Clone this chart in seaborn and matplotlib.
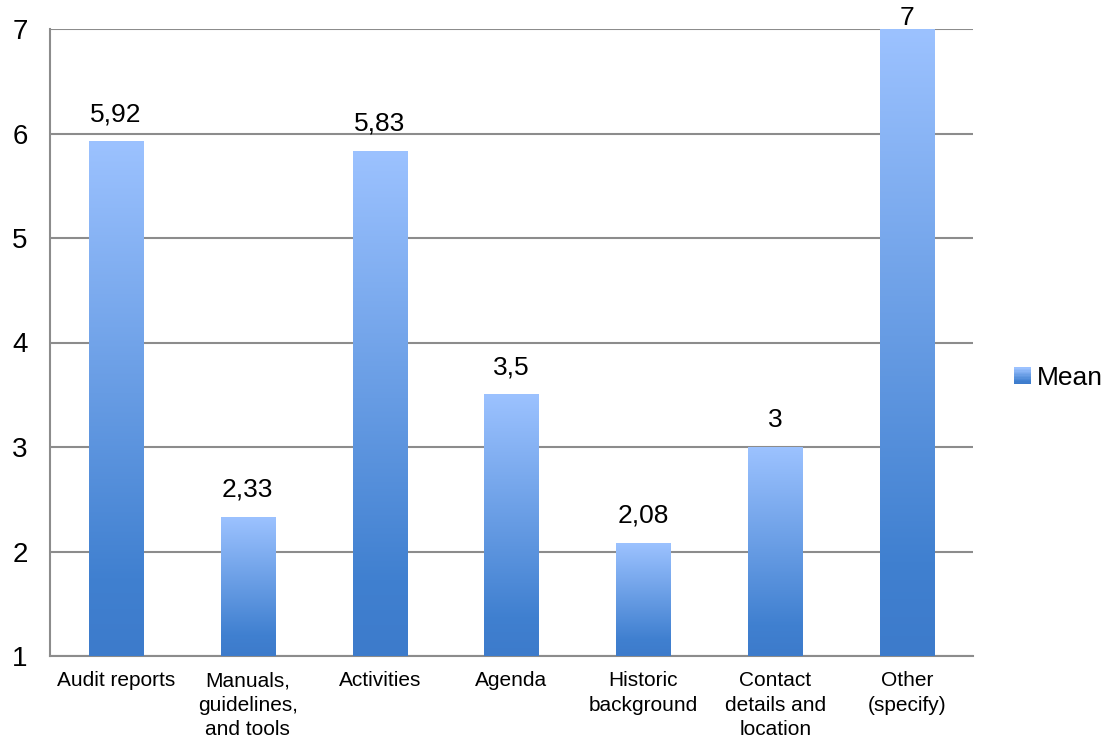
#Bar chart of mean scores per category with blue gradient bars
import numpy as np
import pandas as pd
import matplotlib
matplotlib.use('Agg')
import matplotlib.pyplot as plt
import seaborn as sns
from matplotlib.colors import LinearSegmentedColormap
from matplotlib.patches import Rectangle
from matplotlib.legend_handler import HandlerBase

#data
categories = ['Audit reports', 'Manuals,\nguidelines,\nand tools', 'Activities', 'Agenda',
              'Historic\nbackground', 'Contact\ndetails and\nlocation', 'Other\n(specify)']
means = [5.92, 2.33, 5.83, 3.5, 2.08, 3, 7]
y_ticks = [1, 2, 3, 4, 5, 6, 7]

df = pd.DataFrame({'category': categories, 'mean': means})

sns.set_style('white')
plt.rcParams['font.family'] = ['Liberation Sans', 'DejaVu Sans']
plt.rcParams['text.color'] = 'black'
plt.rcParams['xtick.labelcolor'] = 'black'
plt.rcParams['ytick.labelcolor'] = 'black'

#gradient from dark blue (bottom) to light blue (top)
cmap = LinearSegmentedColormap.from_list('bluegrad', [(0, '#3d7bcb'), (0.15, '#4080d0'), (1, '#9cc2ff')])

fig = plt.figure(figsize=(11.07, 7.42), dpi=100)
ax = fig.add_axes([50 / 1107, 1 - 656 / 742, (973 - 50) / 1107, (656 - 29) / 742])

sns.barplot(data=df, x='category', y='mean', color='#6f9fe6', width=0.41, ax=ax, zorder=2)
ax.set_ylim(1, 7)
ax.set_xlim(-0.5, len(categories) - 0.5)

#replace each bar fill with a vertical gradient
grad = np.linspace(0, 1, 256).reshape(-1, 1)
ybot, ytop = ax.get_ylim()
for p in ax.patches:
    x0 = p.get_x()
    w = p.get_width()
    h = p.get_y() + p.get_height()
    ax.imshow(grad, cmap=cmap, origin='lower', aspect='auto',
              extent=[x0, x0 + w, ybot, h], zorder=3, interpolation='bicubic')
    p.set_facecolor('none')
    p.set_edgecolor('none')
ax.set_ylim(1, 7)
ax.set_xlim(-0.5, len(categories) - 0.5)

#value labels with decimal comma (the label on a full-height bar sits on the top line)
for p, v in zip(ax.patches, means):
    lab = '{:g}'.format(v).replace('.', ',')
    off = -1 if v >= ytop else 11
    ax.annotate(lab, (p.get_x() + p.get_width() / 2, p.get_y() + p.get_height()),
                xytext=(0, off), textcoords='offset points', ha='center', va='bottom',
                fontsize=19, color='black', zorder=5, annotation_clip=False)

#grid and axes styling
ax.set_yticks(y_ticks)
ax.yaxis.grid(True, color='#8c8c8c', linewidth=1.5, zorder=1)
ax.set_axisbelow(True)
for s in ['top', 'right']:
    ax.spines[s].set_visible(False)
for s in ['left', 'bottom']:
    ax.spines[s].set_color('#8c8c8c')
    ax.spines[s].set_linewidth(1.5)
ax.tick_params(axis='y', labelsize=20, length=6, width=1.5, color='#8c8c8c', pad=10)
ax.tick_params(axis='x', which='major', labelsize=15, length=0, pad=11)
ax.set_xticks(np.arange(-0.5, len(categories)), minor=True)
ax.tick_params(axis='x', which='minor', length=7, width=1.5, color='#8c8c8c')
for t in ax.get_xticklabels():
    t.set_linespacing(1.35)
ax.set_xlabel('')
ax.set_ylabel('')


#legend handle drawn as a small gradient square
class GradientHandler(HandlerBase):
    def create_artists(self, legend, orig_handle, xdescent, ydescent, width, height, fontsize, trans):
        n = 12
        side = height * 0.9
        x0 = -xdescent + width - side
        y0 = -ydescent + (height - side) / 2
        artists = []
        for i in range(n):
            r = Rectangle((x0, y0 + side * i / n), side, side / n + 0.3,
                          facecolor=cmap(i / (n - 1)), edgecolor='none', transform=trans)
            artists.append(r)
        return artists


handle = Rectangle((0, 0), 1, 1)
fig.legend([handle], ['Mean'], handler_map={Rectangle: GradientHandler()},
           loc='center left', bbox_to_anchor=(987 / 1107, 1 - 378 / 742), frameon=False,
           fontsize=19, handlelength=0.75, handletextpad=0.25)

plt.savefig('out.png', dpi=100)
